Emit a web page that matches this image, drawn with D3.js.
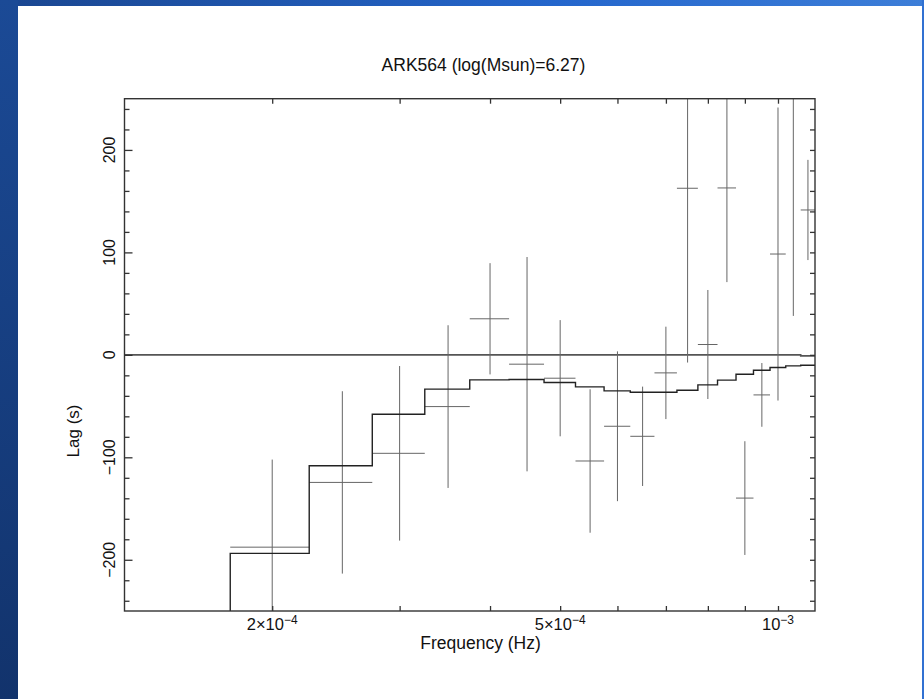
<!DOCTYPE html>
<html>
<head>
<meta charset="utf-8">
<script src="https://cdn.jsdelivr.net/npm/d3@7"></script>
<style>
  html, body { margin: 0; padding: 0; background: #fff; }
  svg { display: block; }
  text { font-family: "Liberation Sans", Arial, Helvetica, sans-serif; fill: #111; }
</style>
</head>
<body>
<svg id="chart" width="924" height="699"></svg>
<script>
// ---------------- data ----------------
const titleText = "ARK564 (log(Msun)=6.27)";
const xLabel = "Frequency (Hz)";
const yLabel = "Lag (s)";

// frequency of each measured lag (Hz)
const freq = [2.0e-4, 2.5e-4, 3.0e-4, 3.5e-4, 4.0e-4, 4.5e-4, 5.0e-4, 5.5e-4, 6.0e-4, 6.5e-4,
              7.0e-4, 7.5e-4, 8.0e-4, 8.5e-4, 9.0e-4, 9.5e-4, 1.0e-3, 1.05e-3, 1.1e-3];
// half width of each frequency bin (Hz)
const freqHalf = [2.5e-5, 2.5e-5, 2.5e-5, 2.5e-5, 2.5e-5, 2.5e-5, 2.5e-5, 2.5e-5, 2.5e-5, 2.5e-5,
                  2.5e-5, 2.5e-5, 2.5e-5, 2.5e-5, 2.5e-5, 2.5e-5, 2.5e-5, 2.5e-5, 2.5e-5];
// lag (s) and 1-sigma error
const lag    = [-187.7, -124.5, -96.1, -50.5, 35.2, -9.1, -22.8, -103.6, -69.7, -79.5,
                -17.6, 162.6, 10.1, 162.9, -139.8, -39.1, 98.4, 275, 141.4];
const lagErr = [85.5, 89.0, 85.2, 79.4, 54.3, 104.6, 56.7, 70.0, 73.1, 48.5,
                45.1, 170.1, 53.2, 91.9, 55.5, 31.1, 143.0, 237.0, 48.9];

// model (step) bin edges and values
const modelEdges = [1.25e-4, 1.75e-4, 2.25e-4, 2.75e-4, 3.25e-4, 3.75e-4, 4.25e-4, 4.75e-4, 5.25e-4, 5.75e-4,
                    6.25e-4, 6.75e-4, 7.25e-4, 7.75e-4, 8.25e-4, 8.75e-4, 9.25e-4, 9.75e-4, 1.025e-3, 1.075e-3, 1.125e-3];
const modelLag = [-330, -193.8, -108.2, -58.0, -33.5, -24.4, -24.1, -27.0, -31.3, -35.2,
                  -36.5, -36.5, -34.5, -29.3, -24.7, -18.9, -15.0, -12.4, -10.8, -10.1];
const zeroLag  = [0, 0, 0, 0, 0, 0, 0, 0, 0, 0,
                  0, 0, 0, 0, 0, 0, 0, 0, 0, -1];

// axes
const xDomain = [1.25e-4, 1.125e-3];
const yDomain = [-250, 250];
const xMajorTicks = [2e-4, 5e-4, 1e-3];
const xMajorMant = ["2", "5", ""];
const xMajorExp = ["\u22124", "\u22124", "\u22123"];
const xMinorTicks = [3e-4, 4e-4, 6e-4, 7e-4, 8e-4, 9e-4];
const yMajorTicks = [-200, -100, 0, 100, 200];
const yMajorLabels = ["\u2212200", "\u2212100", "0", "100", "200"];
const yMinorTicks = [-240, -220, -180, -160, -140, -120, -80, -60, -40, -20,
                     20, 40, 60, 80, 120, 140, 160, 180, 220, 240];

// ---------------- drawing ----------------
(function () {
const svg = d3.select("#chart");
const W = 924, H = 699;

const defs = svg.append("defs");
const gTop = defs.append("linearGradient").attr("id", "gTop").attr("x1", 0).attr("x2", 1).attr("y1", 0).attr("y2", 0);
gTop.append("stop").attr("offset", "0%").attr("stop-color", "#1a4690");
gTop.append("stop").attr("offset", "60%").attr("stop-color", "#2466cc");
gTop.append("stop").attr("offset", "100%").attr("stop-color", "#3d7ed8");
const gLeft = defs.append("linearGradient").attr("id", "gLeft").attr("x1", 0).attr("x2", 0).attr("y1", 0).attr("y2", 1);
gLeft.append("stop").attr("offset", "0%").attr("stop-color", "#1b4a96");
gLeft.append("stop").attr("offset", "100%").attr("stop-color", "#12336c");

svg.append("rect").attr("x", 0).attr("y", 0).attr("width", W).attr("height", H).attr("fill", "#fff");
svg.append("rect").attr("x", 0).attr("y", 0).attr("width", W).attr("height", 6).attr("fill", "url(#gTop)");
svg.append("rect").attr("x", 0).attr("y", 0).attr("width", 18).attr("height", H).attr("fill", "url(#gLeft)");
svg.append("rect").attr("x", 922).attr("y", 0).attr("width", 2).attr("height", H).attr("fill", "#3171d2");

const pLeft = 124.5, pRight = 815, pTop = 98.7, pBottom = 611;
const x = d3.scaleLog().domain(xDomain).range([pLeft, pRight]);
const y = d3.scaleLinear().domain(yDomain).range([pBottom, pTop]);

defs.append("clipPath").attr("id", "plotClip")
  .append("rect").attr("x", pLeft).attr("y", pTop).attr("width", pRight - pLeft).attr("height", pBottom - pTop);

const plot = svg.append("g").attr("clip-path", "url(#plotClip)");

function stepPoints(edges, vals) {
  const pts = [];
  vals.forEach((v, i) => { pts.push([edges[i], v]); pts.push([edges[i + 1], v]); });
  return pts;
}
const line = d3.line().x(d => x(d[0])).y(d => y(d[1]));

plot.append("path").datum(stepPoints(modelEdges, zeroLag))
  .attr("d", line).attr("fill", "none").attr("stroke", "#555").attr("stroke-width", 1.6);

const pts = freq.map((f, i) => ({ f, h: freqHalf[i], v: lag[i], e: lagErr[i] }));
const eb = plot.append("g").attr("stroke", "#666").attr("stroke-width", 1);
eb.selectAll("line.v").data(pts).join("line").attr("class", "v")
  .attr("x1", d => x(d.f)).attr("x2", d => x(d.f))
  .attr("y1", d => y(d.v - d.e)).attr("y2", d => y(d.v + d.e));
eb.selectAll("line.h").data(pts).join("line").attr("class", "h")
  .attr("x1", d => x(d.f - d.h)).attr("x2", d => x(d.f + d.h))
  .attr("y1", d => y(d.v)).attr("y2", d => y(d.v));

plot.append("path").datum(stepPoints(modelEdges, modelLag))
  .attr("d", line).attr("fill", "none").attr("stroke", "#222").attr("stroke-width", 1.4);

const axisCol = "#333";
svg.append("rect").attr("x", pLeft).attr("y", pTop).attr("width", pRight - pLeft).attr("height", pBottom - pTop)
  .attr("fill", "none").attr("stroke", axisCol).attr("stroke-width", 1.4);

function styleAxis(g) {
  g.select(".domain").remove();
  g.selectAll(".tick line").attr("stroke", axisCol).attr("stroke-width", 1.3);
  g.selectAll(".tick text").remove();
}
svg.append("g").attr("transform", `translate(0,${pBottom})`)
  .call(d3.axisTop(x).tickValues(xMajorTicks.concat(xMinorTicks)).tickSize(5)).call(styleAxis);
svg.append("g").attr("transform", `translate(0,${pTop})`)
  .call(d3.axisBottom(x).tickValues(xMajorTicks.concat(xMinorTicks)).tickSize(5)).call(styleAxis);
svg.append("g").attr("transform", `translate(${pLeft},0)`)
  .call(d3.axisRight(y).tickValues(yMajorTicks).tickSize(8)).call(styleAxis);
svg.append("g").attr("transform", `translate(${pLeft},0)`)
  .call(d3.axisRight(y).tickValues(yMinorTicks).tickSize(5)).call(styleAxis);
svg.append("g").attr("transform", `translate(${pRight},0)`)
  .call(d3.axisLeft(y).tickValues(yMajorTicks.concat(yMinorTicks)).tickSize(5)).call(styleAxis);

xMajorTicks.forEach((t, i) => {
  const tx = svg.append("text").attr("x", x(t)).attr("y", 629.5)
    .attr("text-anchor", "middle").style("font-size", "16.5px");
  const mant = xMajorMant[i] ? xMajorMant[i] + "\u00d710" : "10";
  tx.append("tspan").text(mant);
  tx.append("tspan").attr("dy", -6).style("font-size", "12px").text(xMajorExp[i]);
});

yMajorTicks.forEach((t, i) => {
  svg.append("text").attr("transform", `translate(115,${y(t)}) rotate(-90)`)
    .attr("text-anchor", "middle").style("font-size", "16px").text(yMajorLabels[i]);
});

svg.append("text").attr("x", 483.5).attr("y", 71).attr("text-anchor", "middle")
  .style("font-size", "17.5px").text(titleText);
svg.append("text").attr("x", 480.5).attr("y", 649).attr("text-anchor", "middle")
  .style("font-size", "17.5px").text(xLabel);
svg.append("text").attr("transform", `translate(79,431) rotate(-90)`).attr("text-anchor", "middle")
  .style("font-size", "17px").text(yLabel);
})();
</script>
</body>
</html>
